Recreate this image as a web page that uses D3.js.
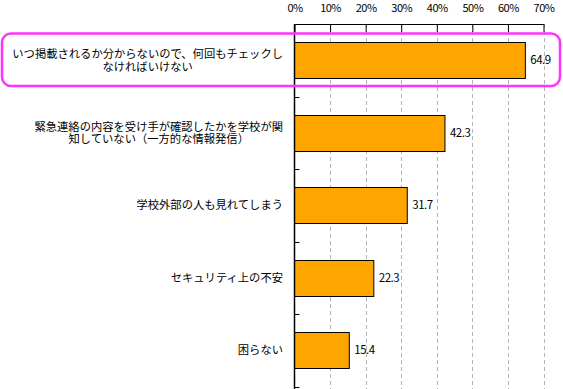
<!DOCTYPE html>
<html lang="ja">
<head>
<meta charset="utf-8">
<title>bar chart</title>
<script src="https://d3js.org/d3.v7.min.js"></script>
<style>
  body { margin: 0; background: #fff; }
  text { font-family: "Noto Sans CJK JP", sans-serif; fill: #000; }
</style>
</head>
<body>
<script>
// data
var categories = [
  ["いつ掲載されるか分からないので、何回もチェックし", "なければいけない"],
  ["緊急連絡の内容を受け手が確認したかを学校が関", "知していない（一方的な情報発信）"],
  ["学校外部の人も見れてしまう"],
  ["セキュリティ上の不安"],
  ["困らない"]
];
var values = [64.9, 42.3, 31.7, 22.3, 15.4];
var tickValues = [0, 10, 20, 30, 40, 50, 60, 70];

var w = 563, h = 389;
var plotLeft = 294.5, plotRight = 543.5, plotTop = 24, plotBottom = 386.5;

var svg = d3.select("body").append("svg")
  .attr("width", w).attr("height", h);

var x = d3.scaleLinear().domain([0, 70]).range([plotLeft, plotRight]);
var y = d3.scaleBand().domain(d3.range(values.length)).range([plotTop, plotBottom])
  .paddingInner(0.5).paddingOuter(0.25);

// gridlines
svg.selectAll("line.grid")
  .data(tickValues.slice(1))
  .enter().append("line")
  .attr("x1", function (d) { return Math.round(x(d)) + 0.5; })
  .attr("x2", function (d) { return Math.round(x(d)) + 0.5; })
  .attr("y1", plotTop).attr("y2", h)
  .attr("stroke", "#b4b4b4")
  .attr("stroke-dasharray", "4,3");

// bars
svg.selectAll("rect.bar")
  .data(values)
  .enter().append("rect")
  .attr("x", x(0))
  .attr("y", function (d, i) { return Math.round(y(i)) + 0.5; })
  .attr("width", function (d) { return x(d) - x(0); })
  .attr("height", Math.round(y.bandwidth()))
  .attr("fill", "#ffa500")
  .attr("stroke", "#000")
  .attr("stroke-width", 1);

// value labels
svg.selectAll("text.val")
  .data(values)
  .enter().append("text")
  .attr("x", function (d) { return x(d) + 5; })
  .attr("y", function (d, i) { return y(i) + y.bandwidth() / 2 + 4; })
  .attr("font-size", "11.5px")
  .attr("letter-spacing", "-0.5px")
  .text(function (d) { return d.toFixed(1); });

// top axis
var xAxis = d3.axisTop(x).tickValues(tickValues).tickSize(-8).tickPadding(12)
  .tickFormat(function (d) { return d + "%"; });
var gx = svg.append("g").attr("transform", "translate(0," + plotTop + ")").call(xAxis);
gx.select(".domain").attr("stroke", "#000").attr("d", "M" + x(0) + ",0.5H" + (x(70) + 0.5));
gx.selectAll(".tick line").attr("stroke", "#000");
gx.selectAll(".tick text")
  .attr("font-family", "Noto Sans CJK JP, sans-serif")
  .attr("font-size", "11px").attr("letter-spacing", "-0.5px").attr("fill", "#000");

// left axis line and band ticks
svg.append("line")
  .attr("x1", plotLeft).attr("x2", plotLeft).attr("y1", plotTop).attr("y2", h)
  .attr("stroke", "#000").attr("stroke-width", 1.5);
svg.selectAll("line.btick")
  .data(d3.range(1, values.length + 1))
  .enter().append("line")
  .attr("x1", plotLeft).attr("x2", plotLeft + 5)
  .attr("y1", function (d) { return Math.round(plotTop + d * y.step()) + 0.5; })
  .attr("y2", function (d) { return Math.round(plotTop + d * y.step()) + 0.5; })
  .attr("stroke", "#000");

// category labels (lines centred within a block right-aligned at 283)
var labelRight = 283, lineH = 12.5;
categories.forEach(function (lines, i) {
  var cy = y(i) + y.bandwidth() / 2;
  var g = svg.append("g");
  var ts = lines.map(function (s, k) {
    return g.append("text")
      .attr("font-size", "11.3px")
      .attr("y", cy + (k - (lines.length - 1) / 2) * lineH + 4)
      .text(s);
  });
  var maxW = d3.max(ts, function (t) { return t.node().getComputedTextLength(); });
  ts.forEach(function (t) {
    t.attr("text-anchor", "middle").attr("x", labelRight - maxW / 2);
  });
});

// highlight frame
svg.append("rect")
  .attr("x", 2).attr("y", 33.5)
  .attr("width", 558).attr("height", 52.5)
  .attr("rx", 9).attr("ry", 9)
  .attr("fill", "none")
  .attr("stroke", "#ff33ff")
  .attr("stroke-width", 2.5);
</script>
</body>
</html>
